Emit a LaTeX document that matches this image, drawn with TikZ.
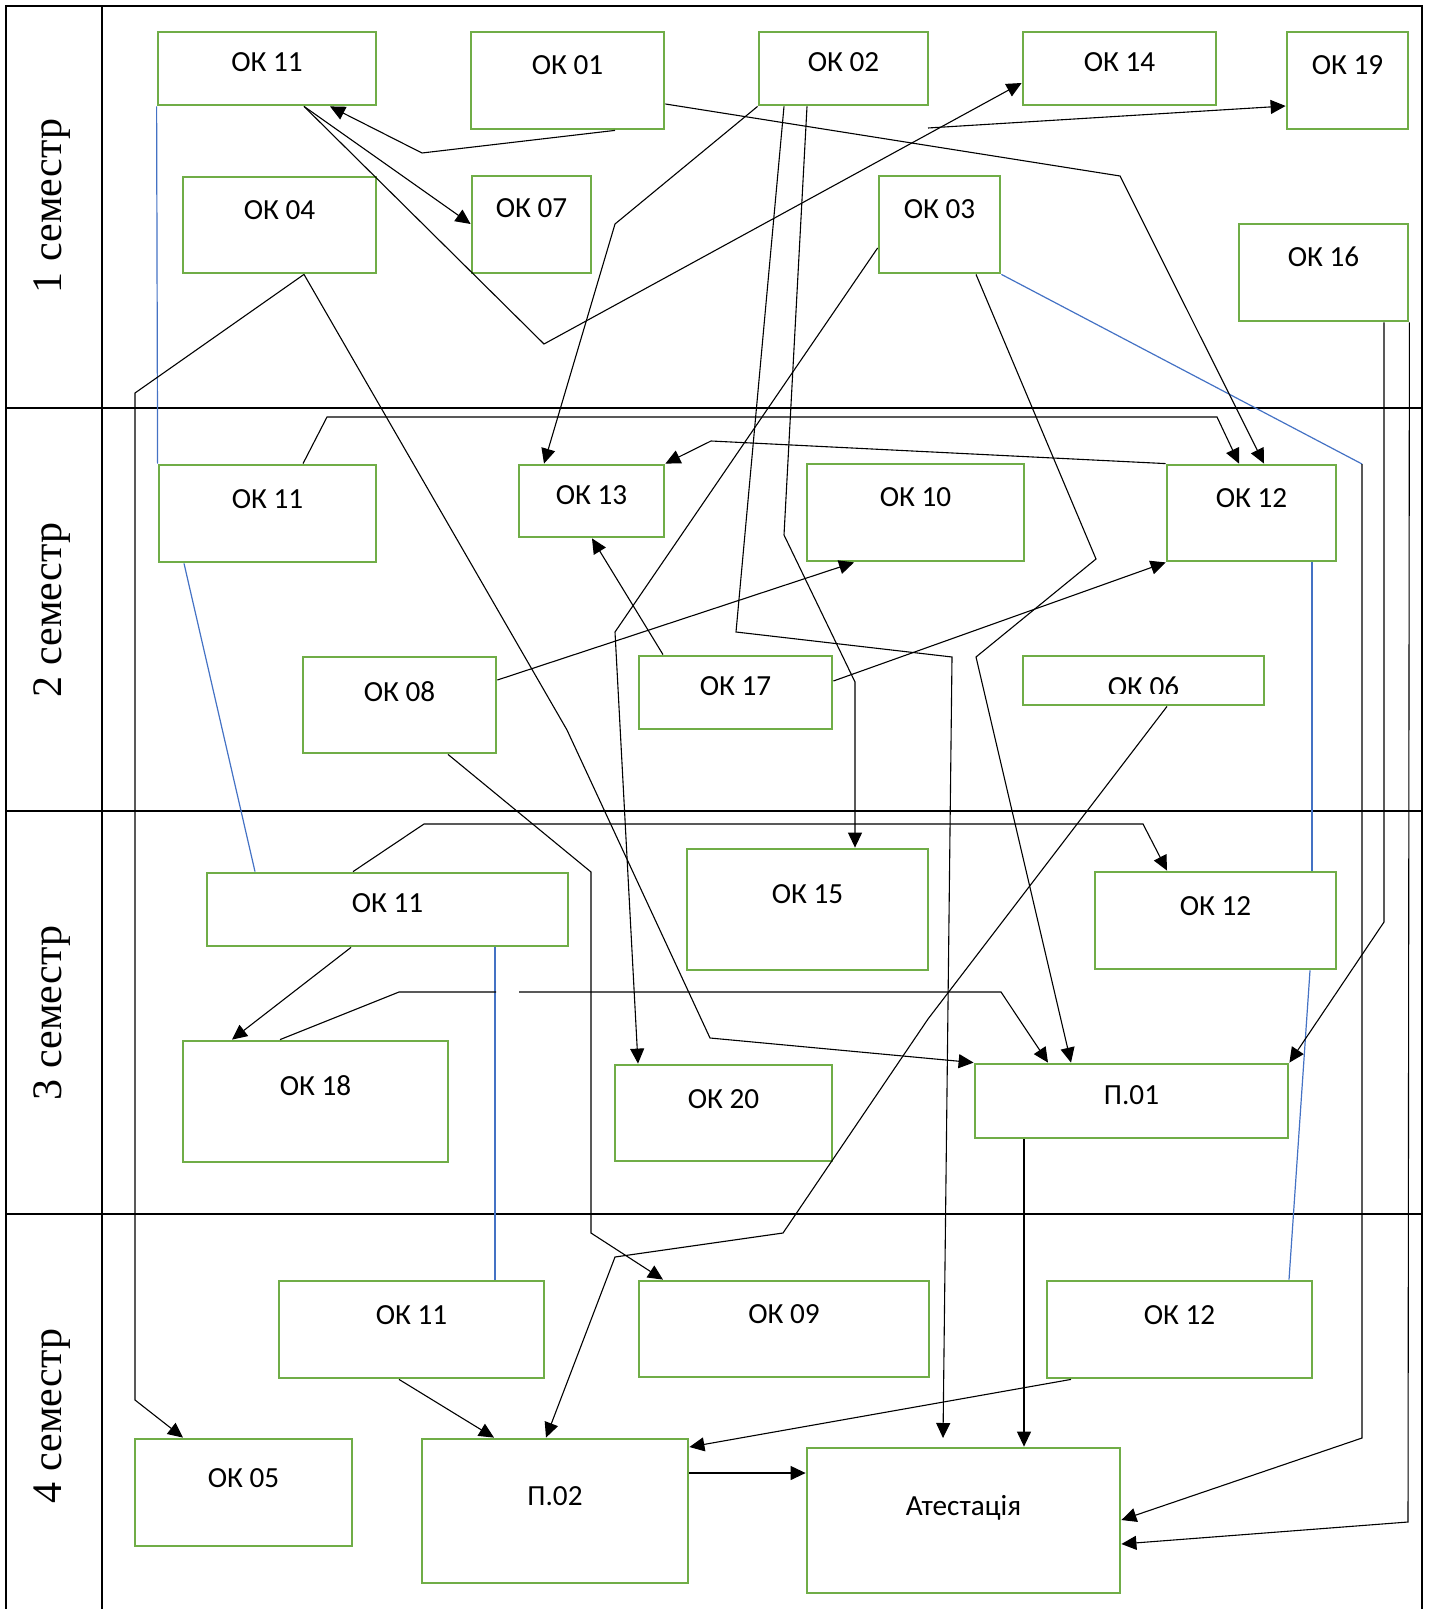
\documentclass[tikz,border=0pt]{standalone}
\usepackage{fontspec}
\setmainfont{Liberation Serif}
\newfontfamily\boxfont{Carlito}
\usetikzlibrary{arrows.meta,fit}
\definecolor{okgreen}{HTML}{70AD47}
\definecolor{okblue}{HTML}{4472C4}
\tikzset{
  bx/.style={draw=okgreen, line width=1.4pt, inner sep=0pt, rectangle},
  tx/.style={font=\boxfont\fontsize{14.6}{17}\selectfont, inner sep=0pt, anchor=base},
  sem/.style={font=\fontsize{21}{25}\selectfont, rotate=90, inner sep=0pt},
  frm/.style={line width=1pt, black},
  conn/.style={line width=0.55pt, black},
  arr/.style={conn, -{Triangle[length=7.5pt,width=7pt]}},
  bl/.style={line width=0.6pt, okblue},
}
\newcommand\okb[7]{%
  \node[bx, fit={(#2,#3) (#4,#5)}] (#1) {};
  \node[tx] (#1-t) at ({(#2+#4)/2},#7) {#6};
}
\begin{document}
\begin{tikzpicture}[x=0.5pt,y=-0.5pt]
\useasboundingbox (0,0) rectangle (1432,1609);
% frame
\draw[frm] (6,1609) -- (6,6) -- (1422,6) -- (1422,1609);
\draw[frm] (102,6) -- (102,1609);
\foreach \yy in {408,811,1214} \draw[frm] (6,\yy) -- (1422,\yy);
% semester labels
\node[sem] (s1) at (52,206) {1 семестр};
\node[sem] (s2) at (52,610) {2 семестр};
\node[sem] (s3) at (52,1013) {3 семестр};
\node[sem] (s4) at (52,1416) {4 семестр};
% semester 1
\okb{k11a}{158}{32}{376}{105}{ОК 11}{72}
\okb{k01}{471}{32}{664}{129}{ОК 01}{75}
\okb{k02}{759}{32}{928}{105}{ОК 02}{72}
\okb{k14}{1023}{32}{1216}{105}{ОК 14}{72}
\okb{k19}{1287}{32}{1408}{129}{ОК 19}{75}
\okb{k04}{183}{177}{376}{273}{ОК 04}{220}
\okb{k07}{472}{176}{591}{273}{ОК 07}{218}
\okb{k03}{879}{176}{1000}{273}{ОК 03}{219}
\okb{k16}{1239}{224}{1408}{321}{ОК 16}{267}
% semester 2
\okb{k11b}{159}{465}{376}{562}{ОК 11}{508}
\okb{k13}{519}{465}{664}{537}{ОК 13}{504}
\okb{k10}{807}{464}{1024}{561}{ОК 10}{506}
\okb{k12b}{1167}{465}{1336}{561}{ОК 12}{507}
\okb{k08}{303}{657}{496}{753}{ОК 08}{701}
\okb{k17}{639}{656}{832}{729}{ОК 17}{695}
\node[bx, fit={(1023,656) (1264,705)}] (k06) {};
\begin{scope}
\clip (1023,656) rectangle (1264,693.5);
\node[tx] (k06-t) at (1143.5,696) {ОК 06};
\end{scope}
% semester 3
\okb{k11c}{207}{873}{568}{946}{ОК 11}{912}
\okb{k15}{687}{849}{928}{970}{ОК 15}{903}
\okb{k12c}{1095}{872}{1336}{969}{ОК 12}{915}
\okb{k18}{183}{1041}{448}{1162}{ОК 18}{1095}
\okb{k20}{615}{1065}{832}{1161}{ОК 20}{1108}
\okb{p01}{975}{1064}{1288}{1138}{П.01}{1104}
% semester 4
\okb{k11d}{279}{1281}{544}{1378}{ОК 11}{1324}
\okb{k09}{639}{1281}{929}{1377}{ОК 09}{1323}
\okb{k12d}{1047}{1281}{1312}{1378}{ОК 12}{1324}
\okb{k05}{135}{1439}{352}{1546}{ОК 05}{1487}
\okb{p02}{422}{1439}{688}{1583}{П.02}{1505}
\okb{att}{807}{1448}{1120}{1593}{Атестація}{1515}
% free ends
\coordinate (e6) at (943,1438);
\coordinate (s33) at (928,128);
% blue links
\draw[bl] (k11a.south west) -- (k11b.north west);
\draw[bl] (k11b.south -| 184,0) -- (k11c.north -| 255,0);
\draw[bl] (k11c.south -| 495,0) -- (k11d.north -| 495,0);
\draw[bl] (k12b.south -| 1312,0) -- (k12c.north -| 1312,0);
\draw[bl] (k12c.south -| 1310,0) -- (k12d.north -| 1289,0);
\draw[bl] (k03.south east) -- (1362,464);
% connectors
\draw[arr] (k01.south -| 615,0) -- (422,153) -- (k11a.south -| 330,0);
\draw[arr] (k11a.south -| 304,0) -- (k07.west |- 0,224);
\draw[arr] (k11a.south -| 304,0) -- (544,344) -- (k14.west |- 0,83);
\draw[arr] (k01.east |- 0,104) -- (1120,176) -- (k12b.north -| 1264,0);
\draw[arr] (k02.south west) -- (615,224) -- (k13.north -| 544,0);
\draw[arr] (k02.south -| 784,0) -- (736,632) -- (952,657) -- (e6);
\draw[arr] (k02.south -| 807,0) -- (784,535) -- (855,682) -- (k15.north -| 855,0);
\draw[arr] (s33) -- (k19.west |- 0,106);
\draw[arr] (k03.west |- 0,248) -- (615,632) -- (k20.north -| 638,0);
\draw[arr] (k03.south -| 976,0) -- (1096,559) -- (976,657) -- (p01.north -| 1071,0);
\draw[arr] (1362,464) -- (1362,1438) -- (att.east |- 0,1520);
\draw[arr] (k16.south -| 1384,0) -- (1384,922) -- (p01.north east);
\draw[arr] (k16.south east) -- (1408,1522) -- (att.east |- 0,1544);
\draw[arr] (k11b.north -| 303,0) -- (327,417) -- (1217,417) -- (k12b.north -| 1239,0);
\draw[arr] (k12b.north west) -- (711,441) -- (k13.north east);
\draw[arr] (k17.north -| 663,0) -- (k13.south -| 592,0);
\draw[arr] (k08.east |- 0,680) -- (k10.south -| 854,0);
\draw[arr] (k17.east |- 0,681) -- (k12b.south west);
\draw[arr] (k04.south -| 304,0) -- (567,730) -- (710,1038) -- (p01.north west);
\draw[arr] (k04.south -| 304,0) -- (135,393) -- (135,1400) -- (k05.north -| 183,0);
\draw[arr] (k11c.north -| 353,0) -- (424,824) -- (1143,824) -- (k12c.north -| 1167,0);
\draw[arr] (k08.south -| 448,0) -- (591,872) -- (591,1233) -- (k09.north -| 663,0);
\draw[conn] (k18.north -| 280,0) -- (399,992) -- (496,992);
\draw[arr] (519,992) -- (1001,992) -- (p01.north -| 1048,0);
\draw[arr] (k11c.south -| 351,0) -- (k18.north -| 232,0);
\draw[arr] (k06.south -| 1167,0) -- (928,1019) -- (783,1233) -- (615,1257) -- (p02.north -| 546,0);
\draw[arr] (k11d.south -| 399,0) -- (p02.north -| 494,0);
\draw[arr] (k12d.south -| 1071,0) -- (p02.east |- 0,1447);
\draw[arr] (p02.east |- 0,1473) -- (att.west |- 0,1473);
\draw[arr] (p01.south -| 1024,0) -- (att.north -| 1024,0);
\end{tikzpicture}
\end{document}
